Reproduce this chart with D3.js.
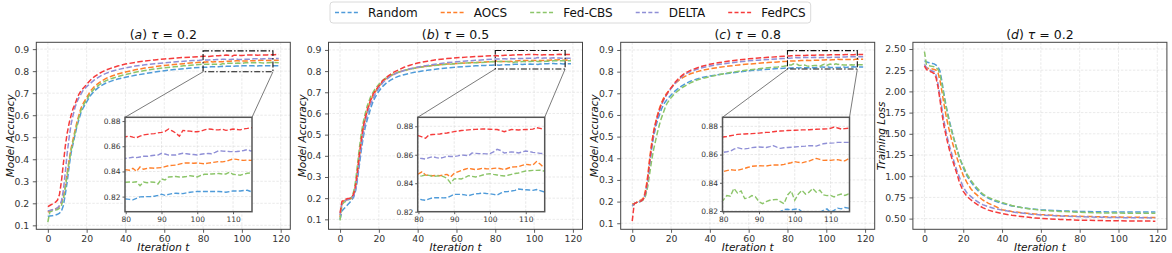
<!DOCTYPE html>
<html>
<head>
<meta charset="utf-8">
<script src="https://cdn.jsdelivr.net/npm/d3@7"></script>
<style>
  body { margin: 0; background: #fff; }
  svg { display: block; font-family: "DejaVu Sans", sans-serif; }
</style>
</head>
<body>
<svg id="chart" width="1172" height="253"></svg>
<script>
// ---- dati ----
const methods = ["Random", "AOCS", "Fed-CBS", "DELTA", "FedPCS"];
const colors = ["#4f9bd9", "#ff7f2a", "#8cc56a", "#8f8fd6", "#f53b3b"];

// iterazioni campionate (pannelli di accuratezza)
const itersAcc = [0,1,2,3,4,5,6,7,8,9,10,11,12,13,14,15,16,17,18,20,22,24,26,28,30,33,36,40,45,50,55,60,65,70,75,78,
  80,81,82,83,84,85,86,87,88,89,90,91,92,93,94,95,96,97,98,99,100,101,102,103,104,105,106,107,108,109,110,111,112,113,114,115,
  117,119];
// iterazioni campionate (pannello loss)
const itersLoss = [0,1,2,3,4,5,6,7,8,9,10,11,12,13,14,15,16,17,18,20,22,24,26,28,30,33,36,40,45,50,55,60,70,80,90,100,110,119];

// (a) tau = 0.2
const randomA = [0.14,0.142,0.143,0.145,0.147,0.15,0.155,0.165,0.19,0.24,0.30,0.37,0.43,0.47,0.51,0.55,0.58,0.61,0.63,0.66,0.69,0.71,0.725,0.737,0.746,0.756,0.764,0.772,0.781,0.789,0.796,0.802,0.807,0.811,0.815,0.817,
  0.8182,0.8178,0.8174,0.8186,0.8198,0.8199,0.82,0.8201,0.8203,0.821,0.8219,0.821,0.8218,0.8224,0.8227,0.8225,0.8224,0.823,0.8235,0.8238,0.824,0.824,0.824,0.8241,0.824,0.8241,0.824,0.8238,0.8235,0.824,0.8245,0.8244,0.8245,0.8248,0.825,0.824,
  0.825,0.825];
const aocsA = [0.16,0.165,0.17,0.172,0.175,0.178,0.185,0.20,0.23,0.28,0.34,0.40,0.45,0.49,0.53,0.57,0.60,0.63,0.65,0.68,0.71,0.73,0.745,0.757,0.767,0.778,0.787,0.796,0.806,0.814,0.82,0.826,0.83,0.834,0.838,0.84,
  0.8414,0.841,0.8425,0.84,0.8435,0.8417,0.8425,0.8428,0.8425,0.8428,0.843,0.8438,0.8446,0.8448,0.845,0.8458,0.8465,0.8468,0.8467,0.8465,0.8467,0.8464,0.846,0.8466,0.847,0.8474,0.8478,0.8476,0.848,0.849,0.8499,0.8496,0.849,0.8488,0.849,0.8488,
  0.849,0.849];
const fedcbsA = [0.115,0.16,0.165,0.168,0.17,0.172,0.178,0.19,0.22,0.27,0.33,0.39,0.44,0.48,0.52,0.555,0.59,0.62,0.64,0.67,0.70,0.72,0.735,0.747,0.757,0.767,0.775,0.785,0.795,0.803,0.81,0.815,0.82,0.824,0.828,0.83,
  0.8314,0.8316,0.8314,0.8318,0.8287,0.8316,0.831,0.8316,0.8314,0.83,0.834,0.8332,0.8356,0.8358,0.836,0.8356,0.8356,0.836,0.8366,0.8362,0.8356,0.8368,0.8377,0.8378,0.838,0.8382,0.8383,0.838,0.838,0.8393,0.8377,0.8374,0.837,0.8378,0.8385,0.8388,
  0.839,0.838];
const deltaA = [0.165,0.168,0.17,0.172,0.175,0.18,0.19,0.21,0.26,0.34,0.43,0.50,0.56,0.60,0.635,0.66,0.68,0.695,0.71,0.73,0.745,0.76,0.772,0.782,0.79,0.80,0.807,0.815,0.823,0.829,0.834,0.838,0.842,0.845,0.848,0.849,
  0.8504,0.8508,0.8512,0.851,0.8515,0.852,0.852,0.8524,0.8528,0.853,0.8544,0.8538,0.853,0.853,0.853,0.8538,0.8544,0.854,0.8536,0.8534,0.853,0.8536,0.854,0.8542,0.854,0.8552,0.8565,0.8562,0.856,0.8558,0.8557,0.8558,0.856,0.8566,0.8573,0.8562,
  0.857,0.858];
const fedpcsA = [0.185,0.19,0.195,0.20,0.205,0.215,0.24,0.30,0.38,0.46,0.52,0.565,0.60,0.63,0.65,0.675,0.695,0.71,0.72,0.74,0.76,0.775,0.787,0.797,0.805,0.815,0.823,0.832,0.84,0.846,0.851,0.855,0.859,0.862,0.864,0.866,
  0.8676,0.868,0.8672,0.8668,0.868,0.869,0.8694,0.8698,0.87,0.8706,0.871,0.8718,0.8737,0.8722,0.8705,0.868,0.8726,0.8722,0.872,0.8716,0.8715,0.872,0.873,0.8737,0.8735,0.873,0.873,0.8735,0.8726,0.873,0.8737,0.8733,0.873,0.8738,0.8742,0.8747,
  0.875,0.876];

// (b) tau = 0.5
const randomB = [0.10,0.14,0.15,0.16,0.17,0.18,0.19,0.205,0.235,0.29,0.36,0.43,0.49,0.535,0.57,0.60,0.63,0.655,0.675,0.705,0.728,0.745,0.757,0.767,0.775,0.783,0.79,0.797,0.804,0.81,0.815,0.819,0.822,0.825,0.827,0.828,
  0.8289,0.8284,0.828,0.829,0.8298,0.8298,0.8298,0.8297,0.8298,0.831,0.8322,0.8322,0.8322,0.8318,0.8312,0.832,0.8326,0.8328,0.8331,0.8328,0.8326,0.8322,0.8317,0.833,0.834,0.8342,0.8345,0.835,0.8359,0.8356,0.8354,0.8352,0.835,0.8356,0.8348,0.834,
  0.835,0.835];
const aocsB = [0.11,0.18,0.188,0.19,0.193,0.196,0.20,0.215,0.25,0.32,0.40,0.47,0.53,0.575,0.61,0.64,0.665,0.685,0.70,0.728,0.75,0.766,0.778,0.787,0.795,0.803,0.81,0.817,0.824,0.829,0.833,0.836,0.839,0.841,0.843,0.845,
  0.8465,0.848,0.8458,0.8455,0.8453,0.8455,0.8453,0.8458,0.8462,0.8444,0.847,0.848,0.849,0.8498,0.8505,0.85,0.8495,0.85,0.8505,0.8502,0.85,0.8504,0.8507,0.8502,0.8495,0.8505,0.8514,0.8515,0.8516,0.8525,0.8533,0.853,0.8528,0.8552,0.8535,0.851,
  0.852,0.851];
const fedcbsB = [0.095,0.17,0.18,0.185,0.19,0.195,0.205,0.23,0.28,0.36,0.44,0.51,0.56,0.60,0.635,0.66,0.685,0.70,0.715,0.738,0.757,0.77,0.78,0.788,0.795,0.803,0.809,0.816,0.823,0.828,0.832,0.835,0.838,0.84,0.842,0.844,
  0.8448,0.8452,0.8458,0.8455,0.8448,0.845,0.8453,0.8446,0.8434,0.8401,0.843,0.8432,0.843,0.844,0.8453,0.8448,0.8444,0.845,0.8458,0.8464,0.8467,0.8462,0.8458,0.8454,0.8451,0.8456,0.8462,0.8468,0.8472,0.848,0.8486,0.8488,0.849,0.849,0.8492,0.8486,
  0.849,0.849];
const deltaB = [0.12,0.18,0.185,0.19,0.193,0.196,0.20,0.21,0.24,0.30,0.38,0.45,0.51,0.555,0.595,0.625,0.65,0.67,0.69,0.72,0.745,0.762,0.775,0.785,0.793,0.803,0.811,0.819,0.827,0.834,0.84,0.844,0.848,0.851,0.854,0.856,
  0.8575,0.8574,0.857,0.858,0.8587,0.858,0.8575,0.8582,0.859,0.8588,0.8587,0.8592,0.8598,0.8596,0.8592,0.8612,0.861,0.8608,0.8608,0.8606,0.8608,0.862,0.8638,0.863,0.8612,0.8616,0.862,0.8618,0.8612,0.862,0.8626,0.8622,0.8617,0.8614,0.861,0.8608,
  0.861,0.861];
const fedpcsB = [0.13,0.185,0.19,0.195,0.198,0.20,0.205,0.22,0.26,0.33,0.41,0.48,0.54,0.58,0.615,0.645,0.67,0.69,0.705,0.73,0.755,0.772,0.785,0.796,0.805,0.818,0.828,0.838,0.847,0.854,0.859,0.863,0.866,0.869,0.871,0.872,
  0.8734,0.8725,0.8716,0.874,0.8742,0.8744,0.8746,0.875,0.8753,0.8758,0.8762,0.8766,0.877,0.8772,0.8775,0.8777,0.8778,0.878,0.8781,0.878,0.8779,0.8778,0.8777,0.877,0.8762,0.877,0.8777,0.8776,0.8774,0.8776,0.8777,0.8778,0.878,0.879,0.8785,0.878,
  0.878,0.879];

// (c) tau = 0.8
const randomC = [0.185,0.19,0.195,0.198,0.20,0.205,0.215,0.245,0.30,0.375,0.445,0.50,0.54,0.575,0.60,0.625,0.645,0.66,0.672,0.692,0.71,0.725,0.737,0.747,0.756,0.765,0.773,0.78,0.787,0.793,0.799,0.804,0.808,0.811,0.814,0.816,
  0.817,0.8168,0.8172,0.8175,0.8178,0.8176,0.8174,0.8178,0.818,0.8182,0.8178,0.8176,0.818,0.8185,0.8182,0.8188,0.8195,0.821,0.8212,0.8208,0.8212,0.8215,0.8195,0.819,0.8185,0.8188,0.8192,0.819,0.8205,0.8215,0.819,0.8205,0.822,0.8215,0.8225,0.822,
  0.822,0.822];
const aocsC = [0.19,0.19,0.195,0.20,0.205,0.21,0.22,0.26,0.32,0.40,0.47,0.525,0.565,0.60,0.63,0.655,0.675,0.69,0.703,0.725,0.745,0.76,0.772,0.782,0.79,0.799,0.806,0.813,0.82,0.826,0.831,0.835,0.839,0.842,0.845,0.847,
  0.8479,0.8486,0.8493,0.849,0.8488,0.8495,0.8502,0.851,0.8517,0.8519,0.8521,0.852,0.8519,0.8523,0.8526,0.8526,0.8526,0.853,0.8536,0.8542,0.855,0.8545,0.8541,0.8548,0.8554,0.8564,0.8573,0.8566,0.8559,0.856,0.8559,0.8562,0.8564,0.8558,0.8555,0.8569,
  0.857,0.857];
const fedcbsC = [0.18,0.19,0.193,0.196,0.20,0.205,0.21,0.23,0.27,0.33,0.39,0.44,0.48,0.52,0.555,0.585,0.61,0.635,0.655,0.68,0.70,0.715,0.728,0.738,0.748,0.76,0.768,0.777,0.787,0.795,0.802,0.808,0.813,0.818,0.822,0.825,
  0.8276,0.8309,0.8305,0.836,0.8327,0.8342,0.8288,0.8292,0.8309,0.83,0.8266,0.8252,0.8266,0.8276,0.828,0.8282,0.8266,0.8252,0.8314,0.8342,0.8276,0.832,0.8347,0.832,0.8333,0.836,0.8333,0.8347,0.8314,0.8309,0.831,0.83,0.8312,0.832,0.831,0.832,
  0.832,0.832];
const deltaC = [0.18,0.19,0.195,0.198,0.20,0.205,0.215,0.245,0.30,0.38,0.45,0.51,0.555,0.59,0.62,0.645,0.665,0.682,0.697,0.722,0.745,0.765,0.78,0.792,0.80,0.81,0.818,0.826,0.834,0.84,0.845,0.85,0.853,0.856,0.859,0.861,
  0.8616,0.862,0.8625,0.8638,0.8649,0.8642,0.864,0.8644,0.8649,0.8652,0.8654,0.8652,0.865,0.8656,0.8663,0.8652,0.8644,0.8648,0.865,0.8652,0.8654,0.8656,0.8658,0.866,0.8663,0.8662,0.866,0.8668,0.8677,0.868,0.8681,0.8683,0.8686,0.8686,0.8686,0.8686,
  0.869,0.869];
const fedpcsC = [0.11,0.19,0.195,0.198,0.20,0.205,0.215,0.25,0.31,0.39,0.46,0.52,0.56,0.595,0.625,0.65,0.67,0.685,0.70,0.725,0.75,0.77,0.785,0.797,0.806,0.816,0.825,0.834,0.842,0.849,0.855,0.859,0.863,0.866,0.869,0.871,
  0.8724,0.8728,0.8733,0.8738,0.8743,0.8745,0.8746,0.8747,0.8748,0.875,0.8752,0.8755,0.8757,0.8758,0.8762,0.8765,0.8767,0.8768,0.877,0.8771,0.8772,0.8773,0.8775,0.8775,0.8776,0.8778,0.8779,0.878,0.8781,0.8783,0.8786,0.8795,0.8788,0.8781,0.8784,0.8786,
  0.879,0.879];

// (d) training loss, tau = 0.2
const randomD = [2.36,2.35,2.34,2.335,2.33,2.325,2.31,2.29,2.24,2.12,1.98,1.85,1.74,1.64,1.55,1.46,1.38,1.30,1.23,1.10,1.0,0.93,0.87,0.82,0.78,0.74,0.71,0.68,0.65,0.63,0.615,0.605,0.592,0.585,0.58,0.578,0.577,0.578];
const aocsD = [2.30,2.28,2.27,2.27,2.265,2.26,2.25,2.22,2.13,2.0,1.86,1.73,1.62,1.52,1.43,1.35,1.27,1.20,1.13,1.01,0.92,0.85,0.80,0.76,0.72,0.68,0.65,0.605,0.585,0.57,0.558,0.548,0.535,0.527,0.522,0.518,0.515,0.513];
const fedcbsD = [2.47,2.32,2.31,2.30,2.295,2.29,2.28,2.26,2.20,2.08,1.95,1.83,1.72,1.62,1.53,1.45,1.37,1.30,1.21,1.12,1.02,0.95,0.89,0.84,0.79,0.75,0.72,0.69,0.655,0.63,0.612,0.60,0.585,0.575,0.568,0.565,0.562,0.562];
const deltaD = [2.32,2.28,2.26,2.25,2.24,2.23,2.19,2.09,1.95,1.80,1.66,1.54,1.44,1.35,1.27,1.19,1.12,1.05,0.99,0.87,0.80,0.76,0.72,0.69,0.665,0.64,0.62,0.60,0.58,0.565,0.552,0.543,0.53,0.522,0.516,0.512,0.51,0.508];
const fedpcsD = [2.30,2.26,2.24,2.235,2.225,2.21,2.16,2.05,1.90,1.74,1.60,1.49,1.39,1.30,1.22,1.15,1.08,1.01,0.93,0.82,0.76,0.72,0.685,0.655,0.63,0.60,0.58,0.56,0.54,0.525,0.512,0.502,0.49,0.482,0.477,0.474,0.472,0.47];

const xTicks = [0, 20, 40, 60, 80, 100, 120];
const accTicks = [0.1, 0.2, 0.3, 0.4, 0.5, 0.6, 0.7, 0.8, 0.9];
const lossTicks = [0.5, 0.75, 1.0, 1.25, 1.5, 1.75, 2.0, 2.25, 2.5];
const insetXTicks = [80, 90, 100, 110];
const insetYTicks = [0.82, 0.84, 0.86, 0.88];

// ---- layout ----
const svg = d3.select("#chart");
const plotTop = 42.3, plotBottom = 229.3, panelW = 254;
const defs = svg.append("defs");

const panels = [
  { id: "a", left: 36.3, tau: "0.2", ylabel: "Model Accuracy", labelOff: 22.5, iters: itersAcc,
    series: [randomA, aocsA, fedcbsA, deltaA, fedpcsA], yDomain: [0.082, 0.931], yTicks: accTicks, fmt: ".1f",
    inset: { dx: 88.7, yDomain: [0.808, 0.883], box: [80, 116, 0.797, 0.892] } },
  { id: "b", left: 328.5, tau: "0.5", ylabel: "Model Accuracy", labelOff: 22.5, iters: itersAcc,
    series: [randomB, aocsB, fedcbsB, deltaB, fedpcsB], yDomain: [0.053, 0.936], yTicks: accTicks, fmt: ".1f",
    inset: { dx: 89.2, yDomain: [0.82, 0.8863], box: [80, 116, 0.81, 0.897] } },
  { id: "c", left: 620.7, tau: "0.8", ylabel: "Model Accuracy", labelOff: 22.5, iters: itersAcc,
    series: [randomC, aocsC, fedcbsC, deltaC, fedpcsC], yDomain: [0.072, 0.9355], yTicks: accTicks, fmt: ".1f",
    inset: { dx: 101.8, yDomain: [0.8195, 0.8864], box: [80, 116, 0.812, 0.897] } },
  { id: "d", left: 912.9, tau: "0.2", ylabel: "Training Loss", labelOff: 27.5, iters: itersLoss,
    series: [randomD, aocsD, fedcbsD, deltaD, fedpcsD], yDomain: [0.374, 2.579], yTicks: lossTicks, fmt: ".2f",
    inset: null }
];

function styleAxis(g, fontSize) {
  g.select(".domain").remove();
  g.selectAll(".tick line").attr("stroke", "#333").attr("stroke-width", 0.8);
  g.selectAll(".tick text").attr("fill", "#333").attr("font-size", fontSize)
    .attr("font-family", "DejaVu Sans, sans-serif");
}

panels.forEach(p => {
  const x = d3.scaleLinear().domain([-5.95, 124.95]).range([p.left, p.left + panelW]);
  const y = d3.scaleLinear().domain(p.yDomain).range([plotBottom, plotTop]);
  const g = svg.append("g");

  // griglia
  g.append("g").selectAll("line").data(xTicks).join("line")
    .attr("x1", d => x(d)).attr("x2", d => x(d)).attr("y1", plotTop).attr("y2", plotBottom)
    .attr("stroke", "#dcdcdc").attr("stroke-width", 0.6).attr("stroke-dasharray", "2.5,1.5");
  g.append("g").selectAll("line").data(p.yTicks).join("line")
    .attr("x1", p.left).attr("x2", p.left + panelW).attr("y1", d => y(d)).attr("y2", d => y(d))
    .attr("stroke", "#dcdcdc").attr("stroke-width", 0.6).attr("stroke-dasharray", "2.5,1.5");

  // clip
  defs.append("clipPath").attr("id", "clip-" + p.id).append("rect")
    .attr("x", p.left).attr("y", plotTop).attr("width", panelW).attr("height", plotBottom - plotTop);

  const line = d3.line().x((d, i) => x(p.iters[i])).y(d => y(d));
  g.append("g").attr("clip-path", `url(#clip-${p.id})`)
    .selectAll("path").data(p.series).join("path")
    .attr("d", d => line(d))
    .attr("fill", "none")
    .attr("stroke", (d, i) => colors[i])
    .attr("stroke-width", 1.5)
    .attr("stroke-dasharray", "5.5,2.4");

  // assi
  g.append("g").attr("transform", `translate(0,${plotBottom})`)
    .call(d3.axisBottom(x).tickValues(xTicks).tickSize(3.5).tickPadding(2.3).tickFormat(d3.format("d")))
    .call(a => styleAxis(a, 9.3));
  g.append("g").attr("transform", `translate(${p.left},0)`)
    .call(d3.axisLeft(y).tickValues(p.yTicks).tickSize(3.5).tickPadding(3.5).tickFormat(d3.format(p.fmt)))
    .call(a => styleAxis(a, 9.3));

  // cornice
  g.append("rect").attr("x", p.left).attr("y", plotTop).attr("width", panelW).attr("height", plotBottom - plotTop)
    .attr("fill", "none").attr("stroke", "#444").attr("stroke-width", 1);

  // titolo
  const t = g.append("text").attr("x", p.left + panelW / 2).attr("y", 39)
    .attr("text-anchor", "middle").attr("font-size", 12.5).attr("fill", "#111");
  t.append("tspan").text("(");
  t.append("tspan").attr("font-style", "italic").text(p.id);
  t.append("tspan").text(") ");
  t.append("tspan").attr("font-style", "italic").text("τ");
  t.append("tspan").text(" = " + p.tau);

  // etichette
  g.append("text").attr("x", p.left + panelW / 2).attr("y", 250.6)
    .attr("text-anchor", "middle").attr("font-size", 10.5).attr("font-style", "italic").attr("fill", "#111")
    .text("Iteration t");
  g.append("text")
    .attr("transform", `translate(${p.left - p.labelOff},${(plotTop + plotBottom) / 2}) rotate(-90)`)
    .attr("text-anchor", "middle").attr("font-size", 10.5).attr("font-style", "italic").attr("fill", "#111")
    .text(p.ylabel);

  if (!p.inset) return;

  // ---- inset ----
  const ins = p.inset;
  const ix0 = p.left + ins.dx, iw = 127, iy0 = 117.3, ih = 94.4;
  const xi = d3.scaleLinear().domain([79.8, 115.3]).range([ix0, ix0 + iw]);
  const yi = d3.scaleLinear().domain(ins.yDomain).range([iy0 + ih, iy0]);
  const [bx0, bx1, by0, by1] = ins.box;

  // rettangolo di zoom e connettori
  g.append("rect").attr("x", x(bx0)).attr("y", y(by1))
    .attr("width", x(bx1) - x(bx0)).attr("height", y(by0) - y(by1))
    .attr("fill", "none").attr("stroke", "#111").attr("stroke-width", 1.1)
    .attr("stroke-dasharray", "6,2,1.5,2");
  g.append("line").attr("x1", x(bx0)).attr("y1", y(by0)).attr("x2", ix0).attr("y2", iy0)
    .attr("stroke", "#222").attr("stroke-width", 0.6);
  g.append("line").attr("x1", x(bx1)).attr("y1", y(by0)).attr("x2", ix0 + iw).attr("y2", iy0)
    .attr("stroke", "#222").attr("stroke-width", 0.6);

  const gi = g.append("g");
  gi.append("rect").attr("x", ix0).attr("y", iy0).attr("width", iw).attr("height", ih).attr("fill", "#fff");
  gi.append("g").selectAll("line").data(insetXTicks).join("line")
    .attr("x1", d => xi(d)).attr("x2", d => xi(d)).attr("y1", iy0).attr("y2", iy0 + ih)
    .attr("stroke", "#d6d6d6").attr("stroke-width", 0.6).attr("stroke-dasharray", "2.5,1.5");
  gi.append("g").selectAll("line").data(insetYTicks.filter(v => yi(v) > iy0 && yi(v) < iy0 + ih)).join("line")
    .attr("x1", ix0).attr("x2", ix0 + iw).attr("y1", d => yi(d)).attr("y2", d => yi(d))
    .attr("stroke", "#d6d6d6").attr("stroke-width", 0.6).attr("stroke-dasharray", "2.5,1.5");

  defs.append("clipPath").attr("id", "clipi-" + p.id).append("rect")
    .attr("x", ix0).attr("y", iy0).attr("width", iw).attr("height", ih);
  const li = d3.line().x((d, i) => xi(p.iters[i])).y(d => yi(d));
  gi.append("g").attr("clip-path", `url(#clipi-${p.id})`)
    .selectAll("path").data(p.series).join("path")
    .attr("d", d => li(d))
    .attr("fill", "none")
    .attr("stroke", (d, i) => colors[i])
    .attr("stroke-width", 1.4)
    .attr("stroke-dasharray", "5,2.2");

  gi.append("g").attr("transform", `translate(0,${iy0 + ih})`)
    .call(d3.axisBottom(xi).tickValues(insetXTicks).tickSize(2.5).tickPadding(2).tickFormat(d3.format("d")))
    .call(a => styleAxis(a, 7.5));
  gi.append("g").attr("transform", `translate(${ix0},0)`)
    .call(d3.axisLeft(yi).tickValues(insetYTicks).tickSize(2.5).tickPadding(2).tickFormat(d3.format(".2f")))
    .call(a => styleAxis(a, 7.5));
  gi.append("rect").attr("x", ix0).attr("y", iy0).attr("width", iw).attr("height", ih)
    .attr("fill", "none").attr("stroke", "#555").attr("stroke-width", 1.5);
});

// ---- leggenda ----
const legend = svg.append("g");
const legendBox = legend.append("rect").attr("y", 2).attr("height", 21).attr("rx", 3)
  .attr("fill", "#fff").attr("stroke", "#d0d0d0").attr("stroke-width", 0.8);
let lx = 335;
methods.forEach((m, i) => {
  legend.append("line").attr("x1", lx).attr("x2", lx + 23).attr("y1", 12.5).attr("y2", 12.5)
    .attr("stroke", colors[i]).attr("stroke-width", 1.5).attr("stroke-dasharray", "4,2.3");
  const txt = legend.append("text").attr("x", lx + 33).attr("y", 16.8)
    .attr("font-size", 12).attr("fill", "#111").text(m);
  lx += 33 + txt.node().getComputedTextLength() + 23;
});
legendBox.attr("x", 330).attr("width", lx - 23 + 5 - 330);
</script>
</body>
</html>
